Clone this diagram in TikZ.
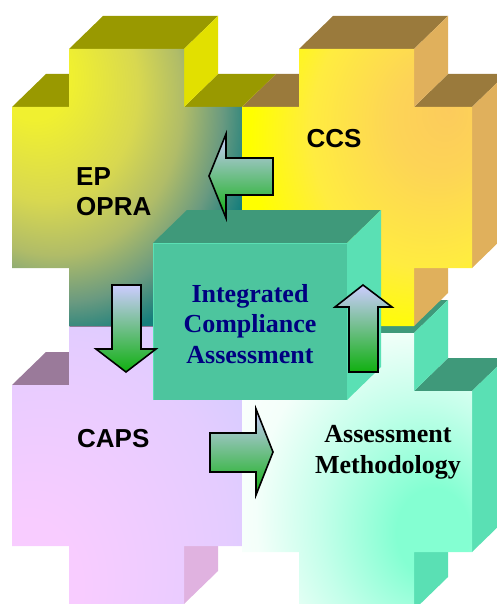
\documentclass[tikz,border=0pt]{standalone}
\usepackage{fontspec}
\setmainfont{Liberation Serif}
\setsansfont{Liberation Sans}
\usepackage{tikz}

\definecolor{epyellow}{HTML}{F0F030}
\definecolor{epolive}{HTML}{D8D850}
\definecolor{epmoss}{HTML}{B0BC68}
\definecolor{epgrey}{HTML}{6A9A80}
\definecolor{epteal}{HTML}{167E7C}
\definecolor{eptop}{HTML}{999900}
\definecolor{epside}{HTML}{E2E000}
\definecolor{ccsorange}{HTML}{FCCB5C}
\definecolor{ccsamber}{HTML}{FDD456}
\definecolor{ccslemon}{HTML}{FFEC40}
\definecolor{ccsyellow}{HTML}{FFFF00}
\definecolor{ccstop}{HTML}{9A7A3C}
\definecolor{ccsside}{HTML}{E0B05C}
\definecolor{capspink}{HTML}{F8CCFF}
\definecolor{capsmauve}{HTML}{E4CCFF}
\definecolor{capslav}{HTML}{CCCCFF}
\definecolor{capstop}{HTML}{9A7A9A}
\definecolor{capsside}{HTML}{E0B2E0}
\definecolor{amint}{HTML}{84FFD2}
\definecolor{amlight}{HTML}{C4FFEA}
\definecolor{amwhite}{HTML}{F4FFFA}
\definecolor{cubefront}{HTML}{4DC59E}
\definecolor{cubetop}{HTML}{3F997A}
\definecolor{cubeside}{HTML}{5AE0B4}
\definecolor{arrowtop}{HTML}{CCCCFF}
\definecolor{arrowmid}{HTML}{AEBED4}
\definecolor{arrowbot}{HTML}{10B010}
\definecolor{icanavy}{HTML}{000080}

\pgfdeclareradialshading{epshade}{\pgfpoint{-22bp}{22bp}}{color(0bp)=(epyellow); color(8bp)=(epyellow); color(20bp)=(epolive); color(28bp)=(epmoss); color(35bp)=(epgrey); color(41bp)=(epteal); color(100bp)=(epteal)}
\pgfdeclareradialshading{ccsshade}{\pgfpoint{20bp}{14bp}}{color(0bp)=(ccsorange); color(10bp)=(ccsamber); color(25bp)=(ccslemon); color(36bp)=(ccsyellow); color(100bp)=(ccsyellow)}
\pgfdeclareradialshading{capsshade}{\pgfpoint{-25bp}{-25bp}}{color(0bp)=(capspink); color(12bp)=(capspink); color(38bp)=(capsmauve); color(55bp)=(capslav); color(100bp)=(capslav)}
\pgfdeclareradialshading{amshade}{\pgfpoint{18bp}{-12bp}}{color(0bp)=(amint); color(8bp)=(amint); color(22bp)=(amlight); color(34bp)=(amwhite); color(46bp)=(white); color(100bp)=(white)}

% one extruded cross, drawn at the EP place and shifted
\newcommand{\crosspiece}[4]{%
  \begin{scope}[shift={#1}]
    \fill[#3] (69,49) -- (184,49) -- (218,16) -- (103,16) -- cycle;
    \fill[#3] (12,107) -- (69,107) -- (103,74) -- (46,74) -- cycle;
    \fill[#3] (184,107) -- (242,107) -- (276,74) -- (218,74) -- cycle;
    \fill[#4] (184,49) -- (218,16) -- (218,74) -- (184,107) -- cycle;
    \fill[#4] (242,107) -- (276,74) -- (276,235) -- (242,268) -- cycle;
    \fill[#4] (184,268) -- (218,235) -- (218,293) -- (184,326) -- cycle;
    \shade[shading=#2] (69,49) -- (184,49) -- (184,107) -- (242,107) -- (242,268)
      -- (184,268) -- (184,326) -- (69,326) -- (69,268) -- (12,268) -- (12,107)
      -- (69,107) -- cycle;
  \end{scope}}

\tikzset{
  blockarrow/.style={draw=black, line width=1.6pt, line join=miter,
    top color=arrowtop, middle color=arrowmid, bottom color=arrowbot},
  boxlabel/.style={font=\sffamily\bfseries\fontsize{26}{30}\selectfont, inner sep=0pt},
  serflabel/.style={font=\bfseries\fontsize{26}{30.5}\selectfont, align=center, inner sep=0pt}
}

\begin{document}
\begin{tikzpicture}[x=1pt, y=-1pt]
  \useasboundingbox (0,0) rectangle (497,604);

  \crosspiece{(0,278)}{capsshade}{capstop}{capsside}
  \crosspiece{(230,284)}{amshade}{cubetop}{cubeside}
  \crosspiece{(0,0)}{epshade}{eptop}{epside}
  \crosspiece{(230,0)}{ccsshade}{ccstop}{ccsside}

  % centre block
  \fill[cubetop] (153,243) -- (347,243) -- (381,210) -- (187,210) -- cycle;
  \fill[cubeside] (347,243) -- (381,210) -- (381,367) -- (347,400) -- cycle;
  \fill[cubefront] (153,243) rectangle (347,400);
  \draw[cubeside, line width=0.8pt] (153.4,400) -- (153.4,243.4) -- (347,243.4);

  % block arrows
  \draw[blockarrow] (273,158) -- (226,158) -- (226,134) -- (209,176) -- (226,218)
    -- (226,195) -- (273,195) -- cycle;
  \draw[blockarrow] (112,285) -- (141,285) -- (141,349) -- (156,349) -- (126,372)
    -- (96,349) -- (112,349) -- cycle;
  \draw[blockarrow] (349,372) -- (378,372) -- (378,307) -- (392,307) -- (363,285)
    -- (335,307) -- (349,307) -- cycle;
  \draw[blockarrow] (210,433) -- (256,433) -- (256,409) -- (273,452) -- (256,495)
    -- (256,472) -- (210,472) -- cycle;

  % labels (base = last line)
  \node (ep) [boxlabel, anchor=base west, align=left] at (76,215) {EP\\OPRA};
  \node (ccs) [boxlabel, anchor=base] at (334,148) {CCS};
  \node (caps) [boxlabel, anchor=base west] at (77,447) {CAPS};
  \node (ica) [serflabel, text=icanavy, anchor=base] at (250,363) {Integrated\\Compliance\\Assessment};
  \node (method) [serflabel, anchor=base] at (388,473) {Assessment\\Methodology};
\end{tikzpicture}
\end{document}
